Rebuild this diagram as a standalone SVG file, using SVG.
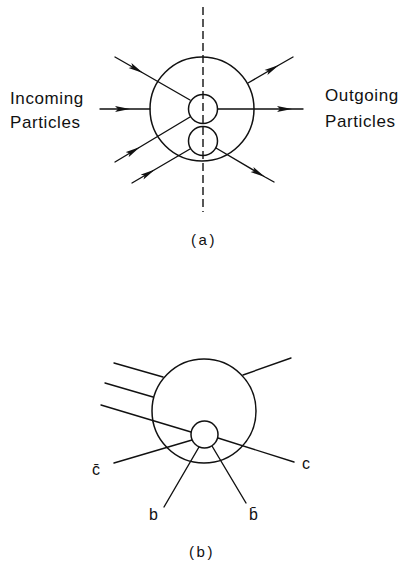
<svg xmlns="http://www.w3.org/2000/svg" width="399" height="565" viewBox="0 0 399 565">
  <style>
    .ln { fill: none; stroke: #111; stroke-width: 1.4; stroke-linecap: round; }
    .nd { fill: #fff; stroke: #111; stroke-width: 1.5; }
    .dash { fill: none; stroke: #111; stroke-width: 1.4; stroke-dasharray: 8 4; }
    .tx { font-family: "Liberation Sans", Arial, sans-serif; fill: #111; }
    .big { font-size: 17px; letter-spacing: 0.6px; }
    .lab { font-size: 16px; }
    .cap { font-size: 15px; letter-spacing: 2.5px; }
  </style>
  <defs>
    <marker id="arr" viewBox="0 0 15 7" refX="15" refY="3.5" markerUnits="userSpaceOnUse" markerWidth="15" markerHeight="7" orient="auto">
      <path d="M0,0.6 L15,3.5 L0,6.4 L3,3.5 Z" fill="#111"/>
    </marker>
  </defs>

  <rect width="399" height="565" fill="#fff"/>

  <!-- (a) -->
  <g id="a-blob">
    <circle class="nd" cx="202" cy="109" r="52"/>
  </g>
  <g id="a-connectors">
    <polyline class="ln" points="115,57 143,73 190,100" marker-mid="url(#arr)"/>
    <polyline class="ln" points="100,109 130,109 150,109" marker-mid="url(#arr)"/>
    <polyline class="ln" points="115,162 140,147 190,117" marker-mid="url(#arr)"/>
    <polyline class="ln" points="132,183 155,169.5 190,149" marker-mid="url(#arr)"/>
    <polyline class="ln" points="248,83 279,65 293,57" marker-mid="url(#arr)"/>
    <polyline class="ln" points="217,109 292,109 303,109" marker-mid="url(#arr)"/>
    <polyline class="ln" points="216,148 265,177 274,182" marker-mid="url(#arr)"/>
  </g>
  <g id="a-sub1">
    <circle class="nd" cx="203" cy="109" r="14.5"/>
  </g>
  <g id="a-sub2">
    <circle class="nd" cx="203" cy="141" r="14.5"/>
  </g>
  <g id="a-cut">
    <line class="dash" x1="203" y1="7" x2="203" y2="212"/>
  </g>
  <g id="a-labels">
    <text class="tx big" x="10" y="104">Incoming</text>
    <text class="tx big" x="10" y="128">Particles</text>
    <text class="tx big" x="325" y="101">Outgoing</text>
    <text class="tx big" x="325" y="127">Particles</text>
    <text class="tx cap" x="204" y="245" text-anchor="middle">(a)</text>
  </g>

  <!-- (b) -->
  <g id="b-blob">
    <circle class="nd" cx="204" cy="411" r="52"/>
  </g>
  <g id="b-connectors">
    <line class="ln" x1="114" y1="363" x2="163" y2="377"/>
    <line class="ln" x1="105" y1="383" x2="153" y2="397"/>
    <line class="ln" x1="101" y1="405" x2="191" y2="432"/>
    <line class="ln" x1="243" y1="375" x2="291" y2="358"/>
    <line class="ln" x1="114" y1="463" x2="192" y2="440"/>
    <line class="ln" x1="218" y1="438" x2="294" y2="462"/>
    <line class="ln" x1="199" y1="447" x2="164" y2="507"/>
    <line class="ln" x1="212" y1="446" x2="246" y2="503"/>
  </g>
  <g id="b-sub">
    <circle class="nd" cx="204.5" cy="434.5" r="13.5"/>
  </g>
  <g id="b-labels">
    <text class="tx lab" x="92" y="475">c̄</text>
    <text class="tx lab" x="302" y="469">c</text>
    <text class="tx lab" x="149" y="520">b</text>
    <text class="tx lab" x="249" y="520">b̄</text>
    <text class="tx cap" x="202" y="557" text-anchor="middle">(b)</text>
  </g>
</svg>
